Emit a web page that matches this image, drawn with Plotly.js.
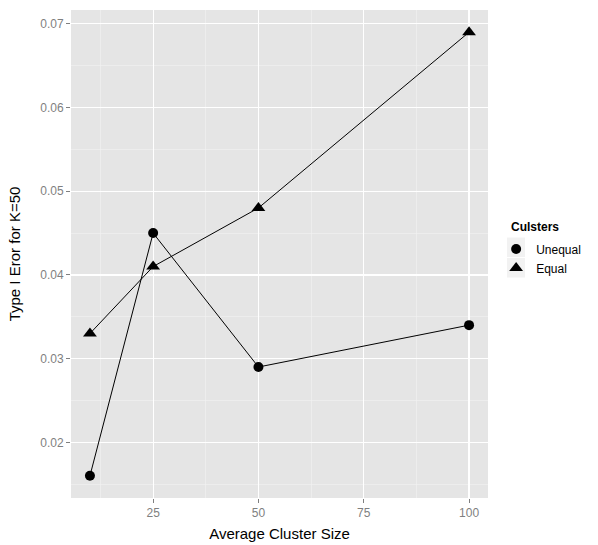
<!DOCTYPE html>
<html><head><meta charset="utf-8">
<script src="https://cdn.plot.ly/plotly-3.0.1.min.js"></script>
<style>html,body{margin:0;padding:0;background:#fff}#c{width:598px;height:545px}</style>
</head><body><div id="c"></div>
<script>
const clusterSize = [10, 25, 50, 100];
const unequalErr = [0.016, 0.045, 0.029, 0.034];
const equalErr = [0.033, 0.041, 0.048, 0.069];
const xTicks = [25, 50, 75, 100];
const yTicks = [0.02, 0.03, 0.04, 0.05, 0.06, 0.07];
const seriesNames = ['Unequal', 'Equal'];
const legendTitle = 'Culsters';

const font = 'Liberation Sans, Arial, sans-serif';
const symbols = ['circle', 'triangle-up'];
const sizes = [10, 12];
const series = [unequalErr, equalErr];
const traces = [];
series.forEach((ys, i) => {
  traces.push({x: clusterSize, y: ys, name: seriesNames[i], type: 'scatter', mode: 'lines+markers',
    legendgroup: seriesNames[i], showlegend: false,
    line: {color: '#000', width: 1}, marker: {symbol: symbols[i], size: sizes[i], color: '#000'}});
});
series.forEach((ys, i) => {
  traces.push({x: [null], y: [null], name: seriesNames[i], type: 'scatter', mode: 'markers',
    legendgroup: seriesNames[i], showlegend: true,
    marker: {symbol: symbols[i], size: sizes[i], color: '#000'}});
});
const layout = {
  width: 598, height: 545,
  margin: {l: 71, r: 110, t: 10, b: 47},
  paper_bgcolor: '#fff', plot_bgcolor: '#e5e5e5',
  font: {family: font, color: '#000'},
  showlegend: true,
  xaxis: {
    range: [5.5, 104.5], tickvals: xTicks, ticktext: xTicks.map(String),
    ticks: 'outside', ticklen: 4, tickcolor: '#7f7f7f', tickwidth: 1,
    tickfont: {size: 12, color: '#7f7f7f', family: font},
    gridcolor: '#ffffff', gridwidth: 1.2, zeroline: false, showline: false,
    minor: {tickvals: [12.5, 37.5, 62.5, 87.5], showgrid: true, gridcolor: '#f2f2f2', gridwidth: 0.6, ticks: ''},
    title: {text: 'Average Cluster Size', font: {size: 15, color: '#000', family: font}, standoff: 9}
  },
  yaxis: {
    range: [0.01335, 0.07165], tickvals: yTicks, ticktext: yTicks.map(v => v.toFixed(2)),
    ticks: 'outside', ticklen: 4, tickcolor: '#7f7f7f', tickwidth: 1,
    tickfont: {size: 12, color: '#7f7f7f', family: font},
    gridcolor: '#ffffff', gridwidth: 1.2, zeroline: false, showline: false,
    minor: {tickvals: [0.015, 0.025, 0.035, 0.045, 0.055, 0.065], showgrid: true, gridcolor: '#f2f2f2', gridwidth: 0.6, ticks: ''},
    title: {text: 'Type I Eror for K=50', font: {size: 15, color: '#000', family: font}, standoff: 15}
  },
  legend: {
    x: 1.0195, xanchor: 'left', y: 0.540, yanchor: 'top',
    font: {size: 12, family: font}, bgcolor: 'rgba(0,0,0,0)',
    tracegroupgap: 0, itemwidth: 30
  },
  annotations: [
    {text: '<b>' + legendTitle + '</b>', xref: 'paper', yref: 'paper', x: 1.0495, y: 0.555,
     xanchor: 'left', yanchor: 'middle', showarrow: false, font: {size: 12, family: font, color: '#000'}}
  ],
  shapes: [
    {type: 'rect', xref: 'paper', yref: 'paper', x0: 1.0456, x1: 1.0887, y0: 0.4938, y1: 0.5338, fillcolor: '#f2f2f2', line: {width: 0}, layer: 'below'},
    {type: 'rect', xref: 'paper', yref: 'paper', x0: 1.0456, x1: 1.0887, y0: 0.4518, y1: 0.4918, fillcolor: '#f2f2f2', line: {width: 0}, layer: 'below'}
  ]
};
Plotly.newPlot('c', traces, layout, {displayModeBar: false, staticPlot: true});
</script></body></html>
